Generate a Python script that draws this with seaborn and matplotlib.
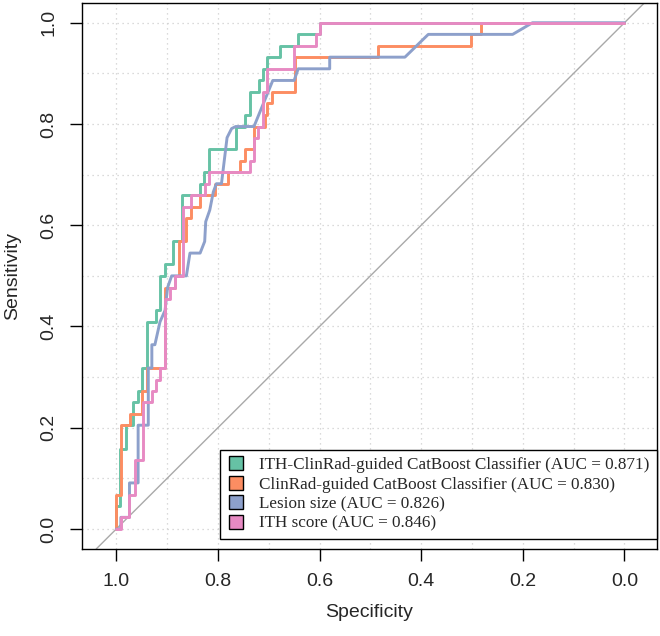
import numpy as np
import pandas as pd
import matplotlib
matplotlib.use("Agg")
import matplotlib.pyplot as plt
from matplotlib.lines import Line2D
from matplotlib.ticker import MultipleLocator, FormatStrFormatter
import seaborn as sns

# ── ROC curve vertices (specificity, sensitivity) ─────────────────────────────
spec_ith_clinrad = [1.0, 1.0, 0.993, 0.993, 0.981, 0.981, 0.967, 0.967, 0.957, 0.957,
                    0.95, 0.95, 0.94, 0.94, 0.921, 0.921, 0.914, 0.914, 0.904, 0.904,
                    0.888, 0.888, 0.87, 0.87, 0.835, 0.835, 0.827, 0.827, 0.817, 0.817,
                    0.765, 0.765, 0.747, 0.747, 0.737, 0.737, 0.72, 0.72, 0.711, 0.711,
                    0.704, 0.704, 0.678, 0.678, 0.642, 0.642, 0.6, 0.6, 0.0]
sens_ith_clinrad = [0.0, 0.045, 0.045, 0.159, 0.159, 0.205, 0.205, 0.25, 0.25, 0.273,
                    0.273, 0.318, 0.318, 0.409, 0.409, 0.432, 0.432, 0.5, 0.5, 0.523,
                    0.523, 0.568, 0.568, 0.659, 0.659, 0.682, 0.682, 0.705, 0.705, 0.75,
                    0.75, 0.795, 0.795, 0.818, 0.818, 0.864, 0.864, 0.886, 0.886, 0.909,
                    0.909, 0.932, 0.932, 0.955, 0.955, 0.977, 0.977, 1.0, 1.0]

spec_clinrad = [1.0, 1.0, 0.991, 0.991, 0.973, 0.973, 0.95, 0.95, 0.94, 0.94,
                0.905, 0.905, 0.885, 0.885, 0.876, 0.876, 0.863, 0.863, 0.852, 0.852,
                0.835, 0.835, 0.806, 0.806, 0.78, 0.78, 0.757, 0.757, 0.747, 0.747,
                0.729, 0.729, 0.707, 0.707, 0.703, 0.703, 0.694, 0.694, 0.649, 0.649,
                0.484, 0.484, 0.301, 0.301, 0.283, 0.283, 0.0]
sens_clinrad = [0.0, 0.068, 0.068, 0.205, 0.205, 0.227, 0.227, 0.273, 0.273, 0.318,
                0.318, 0.477, 0.477, 0.5, 0.5, 0.568, 0.568, 0.614, 0.614, 0.636,
                0.636, 0.659, 0.659, 0.682, 0.682, 0.705, 0.705, 0.727, 0.727, 0.75,
                0.75, 0.795, 0.795, 0.818, 0.818, 0.841, 0.841, 0.864, 0.864, 0.932,
                0.932, 0.955, 0.955, 0.977, 0.977, 1.0, 1.0]

spec_lesion = [1.0, 0.991, 0.991, 0.974, 0.974, 0.957, 0.957, 0.937, 0.937, 0.93,
               0.93, 0.924, 0.914, 0.904, 0.899, 0.891, 0.862, 0.855, 0.835, 0.826,
               0.824, 0.816, 0.809, 0.803, 0.793, 0.782, 0.773, 0.765, 0.729, 0.692,
               0.65, 0.642, 0.58, 0.58, 0.432, 0.386, 0.22, 0.181, 0.0]
sens_lesion = [0.0, 0.0, 0.023, 0.023, 0.091, 0.091, 0.205, 0.205, 0.318, 0.318,
               0.364, 0.364, 0.409, 0.432, 0.477, 0.5, 0.5, 0.545, 0.545, 0.568,
               0.607, 0.63, 0.666, 0.682, 0.682, 0.773, 0.791, 0.795, 0.795, 0.886,
               0.886, 0.909, 0.909, 0.932, 0.932, 0.977, 0.977, 1.0, 1.0]

spec_ith_score = [1.0, 0.991, 0.991, 0.974, 0.974, 0.963, 0.963, 0.947, 0.947, 0.93,
                  0.93, 0.921, 0.921, 0.914, 0.914, 0.904, 0.904, 0.894, 0.894, 0.885,
                  0.885, 0.869, 0.869, 0.852, 0.852, 0.826, 0.826, 0.817, 0.817, 0.737,
                  0.737, 0.729, 0.729, 0.721, 0.721, 0.711, 0.711, 0.704, 0.704, 0.65,
                  0.65, 0.606, 0.606, 0.599, 0.599, 0.0]
sens_ith_score = [0.0, 0.0, 0.023, 0.023, 0.068, 0.068, 0.136, 0.136, 0.25, 0.25,
                  0.273, 0.273, 0.295, 0.295, 0.318, 0.318, 0.455, 0.455, 0.477, 0.477,
                  0.5, 0.5, 0.636, 0.636, 0.659, 0.659, 0.682, 0.682, 0.705, 0.705,
                  0.727, 0.727, 0.773, 0.773, 0.795, 0.795, 0.864, 0.864, 0.909, 0.909,
                  0.955, 0.955, 0.977, 0.977, 1.0, 1.0]

model_names = ["ITH-ClinRad-guided CatBoost Classifier",
               "ClinRad-guided CatBoost Classifier",
               "Lesion size",
               "ITH score"]
auc_values = [0.871, 0.830, 0.826, 0.846]

# ── long table for seaborn ────────────────────────────────────────────────────
curves = [(spec_ith_clinrad, sens_ith_clinrad), (spec_clinrad, sens_clinrad),
          (spec_lesion, sens_lesion), (spec_ith_score, sens_ith_score)]
roc = pd.concat(
    [pd.DataFrame({"model": name, "spec": sp, "sens": se})
     for name, (sp, se) in zip(model_names, curves)],
    ignore_index=True)

sns.set_style("white")
plt.rcParams["font.family"] = ["Liberation Sans", "DejaVu Sans"]
palette = sns.color_palette("Set2", 4)

fig = plt.figure(figsize=(6.6, 6.36), dpi=100)
ax = fig.add_axes([0.1242, 0.1368, 0.8712, 0.8585])

# dotted background grid every 0.1
ax.xaxis.set_major_locator(MultipleLocator(0.2))
ax.xaxis.set_minor_locator(MultipleLocator(0.1))
ax.yaxis.set_major_locator(MultipleLocator(0.2))
ax.yaxis.set_minor_locator(MultipleLocator(0.1))
ax.grid(True, which="both", linestyle=(0, (1, 3)), color="#CFCFCF", linewidth=0.9)
ax.set_axisbelow(True)

# chance line
ax.axline((1, 0), (0, 1), color="#A9A9A9", linewidth=1.0, zorder=1)

sns.lineplot(data=roc, x="spec", y="sens", hue="model", hue_order=model_names,
             units="model", estimator=None, sort=False, palette=palette,
             linewidth=2.1, legend=False, ax=ax, zorder=3)

ax.set_xlim(1.0675, -0.064)
ax.set_ylim(-0.0395, 1.039)
ax.xaxis.set_major_formatter(FormatStrFormatter("%.1f"))
ax.yaxis.set_major_formatter(FormatStrFormatter("%.1f"))

for side in ["top", "right", "bottom", "left"]:
    ax.spines[side].set_visible(True)
    ax.spines[side].set_color("black")
    ax.spines[side].set_linewidth(1.0)

ax.tick_params(which="major", direction="out", length=8.5, width=1.0,
               color="black", labelsize=14, pad=9, bottom=True, left=True)
ax.tick_params(which="minor", length=0)
for lab in ax.get_yticklabels():
    lab.set_rotation(90)
    lab.set_va("center")

ax.set_xlabel("Specificity", fontsize=14, labelpad=10)
ax.set_ylabel("Sensitivity", fontsize=14, labelpad=14)

handles = [Line2D([0], [0], marker="s", linestyle="none", markersize=9.5,
                  markerfacecolor=c, markeredgecolor="black", markeredgewidth=1.0)
           for c in palette]
labels = [f"{n} (AUC = {a:.3f})" for n, a in zip(model_names, auc_values)]
leg = ax.legend(handles, labels, loc="lower right", bbox_to_anchor=(1.0, 0.018),
                borderaxespad=0, frameon=True, fancybox=False, framealpha=1,
                edgecolor="black", prop={"family": "Liberation Serif", "size": 12.3},
                handlelength=1.0, handletextpad=0.85, labelspacing=0.2, borderpad=0.45)
leg.get_frame().set_linewidth(1.0)

fig.savefig("out.png", dpi=100)
